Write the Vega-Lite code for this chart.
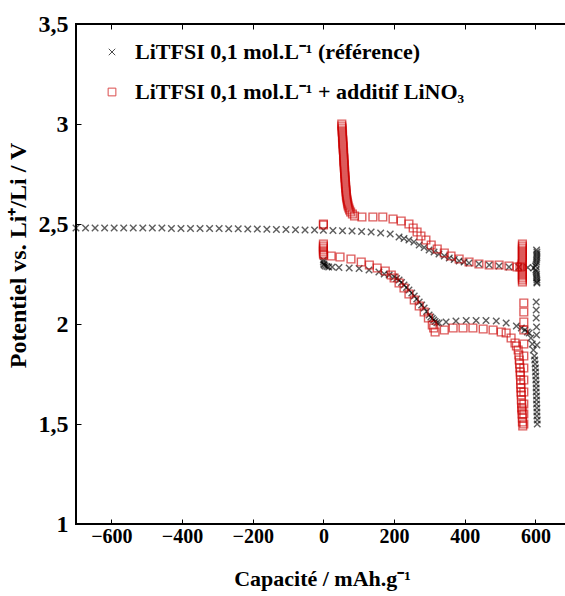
{
  "$schema": "https://vega.github.io/schema/vega-lite/v6.json",
  "width": 492,
  "height": 500,
  "autosize": "none",
  "padding": {"left": 76, "top": 24, "right": 0, "bottom": 72},
  "background": "white",
  "config": {
    "font": "Liberation Serif",
    "view": {"stroke": "black", "strokeWidth": 2},
    "axis": {
      "domain": false,
      "grid": false,
      "tickColor": "black",
      "tickWidth": 1,
      "tickSize": -5,
      "labelFont": "Liberation Serif",
      "labelFontSize": 20,
      "labelFontWeight": "bold",
      "labelColor": "black",
      "titleFont": "Liberation Serif",
      "titleFontSize": 22,
      "titleFontWeight": "bold",
      "titleColor": "black"
    }
  },
  "data": {
    "values": [
      {"s":"ref","x":-700,"y":2.48},{"s":"ref","x":-673,"y":2.48},{"s":"ref","x":-646,"y":2.48},{"s":"ref","x":-619,"y":2.48},{"s":"ref","x":-592,"y":2.48},{"s":"ref","x":-565,"y":2.48},{"s":"ref","x":-538,"y":2.48},{"s":"ref","x":-511,"y":2.48},{"s":"ref","x":-484,"y":2.48},{"s":"ref","x":-457,"y":2.48},{"s":"ref","x":-430,"y":2.478},{"s":"ref","x":-403,"y":2.478},{"s":"ref","x":-376,"y":2.478},{"s":"ref","x":-349,"y":2.477},{"s":"ref","x":-322,"y":2.477},{"s":"ref","x":-295,"y":2.477},{"s":"ref","x":-268,"y":2.476},{"s":"ref","x":-241,"y":2.476},{"s":"ref","x":-214,"y":2.475},{"s":"ref","x":-187,"y":2.475},{"s":"ref","x":-160,"y":2.474},{"s":"ref","x":-133,"y":2.473},{"s":"ref","x":-106,"y":2.472},{"s":"ref","x":-79,"y":2.471},{"s":"ref","x":-52,"y":2.47},{"s":"ref","x":-25,"y":2.47},{"s":"ref","x":0,"y":2.469},
      {"s":"ref","x":27,"y":2.467},{"s":"ref","x":54,"y":2.466},{"s":"ref","x":81,"y":2.465},{"s":"ref","x":108,"y":2.463},{"s":"ref","x":135,"y":2.46},{"s":"ref","x":162,"y":2.455},{"s":"ref","x":189,"y":2.45},{"s":"ref","x":214,"y":2.435},{"s":"ref","x":228,"y":2.428},{"s":"ref","x":242,"y":2.42},{"s":"ref","x":256,"y":2.41},{"s":"ref","x":271,"y":2.395},{"s":"ref","x":285,"y":2.383},{"s":"ref","x":299,"y":2.37},{"s":"ref","x":313,"y":2.36},{"s":"ref","x":327,"y":2.35},{"s":"ref","x":342,"y":2.34},{"s":"ref","x":356,"y":2.33},{"s":"ref","x":370,"y":2.322},{"s":"ref","x":384,"y":2.315},{"s":"ref","x":398,"y":2.31},{"s":"ref","x":412,"y":2.305},{"s":"ref","x":440,"y":2.3},{"s":"ref","x":469,"y":2.295},{"s":"ref","x":497,"y":2.29},{"s":"ref","x":525,"y":2.285},{"s":"ref","x":553,"y":2.285},{"s":"ref","x":578,"y":2.283},
      {"s":"ref","x":595,"y":2.28},{"s":"ref","x":600,"y":2.29},{"s":"ref","x":602,"y":2.3},{"s":"ref","x":603,"y":2.31},{"s":"ref","x":603,"y":2.32},{"s":"ref","x":604,"y":2.33},{"s":"ref","x":604,"y":2.34},{"s":"ref","x":604,"y":2.35},{"s":"ref","x":604,"y":2.36},{"s":"ref","x":603,"y":2.37},{"s":"ref","x":601,"y":2.27},{"s":"ref","x":602,"y":2.26},{"s":"ref","x":603,"y":2.25},{"s":"ref","x":603,"y":2.24},{"s":"ref","x":603,"y":2.23},{"s":"ref","x":604,"y":2.22},{"s":"ref","x":604,"y":2.21},{"s":"ref","x":604,"y":2.205},
      {"s":"ref","x":602,"y":2.11},{"s":"ref","x":602,"y":2.07},{"s":"ref","x":602,"y":2.03},{"s":"ref","x":603,"y":1.985},{"s":"ref","x":603,"y":1.945},{"s":"ref","x":604,"y":1.895},
      {"s":"ref","x":0,"y":2.32},{"s":"ref","x":0,"y":2.31},{"s":"ref","x":1,"y":2.3},{"s":"ref","x":2,"y":2.295},{"s":"ref","x":5,"y":2.29},{"s":"ref","x":10,"y":2.287},{"s":"ref","x":15,"y":2.285},{"s":"ref","x":25,"y":2.285},{"s":"ref","x":44,"y":2.283},{"s":"ref","x":73,"y":2.28},{"s":"ref","x":101,"y":2.278},{"s":"ref","x":129,"y":2.27},{"s":"ref","x":157,"y":2.26},{"s":"ref","x":172,"y":2.25},{"s":"ref","x":186,"y":2.245},{"s":"ref","x":200,"y":2.235},{"s":"ref","x":207,"y":2.228},{"s":"ref","x":214,"y":2.22},{"s":"ref","x":221,"y":2.208},{"s":"ref","x":228,"y":2.195},{"s":"ref","x":235,"y":2.183},{"s":"ref","x":242,"y":2.17},{"s":"ref","x":250,"y":2.155},{"s":"ref","x":257,"y":2.14},{"s":"ref","x":264,"y":2.125},{"s":"ref","x":271,"y":2.11},{"s":"ref","x":278,"y":2.095},{"s":"ref","x":285,"y":2.08},{"s":"ref","x":292,"y":2.062},{"s":"ref","x":299,"y":2.045},{"s":"ref","x":304,"y":2.035},{"s":"ref","x":308,"y":2.028},{"s":"ref","x":312,"y":2.02},{"s":"ref","x":316,"y":2.012},{"s":"ref","x":321,"y":2.006},{"s":"ref","x":327,"y":2.005},{"s":"ref","x":347,"y":2.01},{"s":"ref","x":375,"y":2.015},{"s":"ref","x":404,"y":2.018},{"s":"ref","x":432,"y":2.018},{"s":"ref","x":460,"y":2.017},{"s":"ref","x":489,"y":2.015},{"s":"ref","x":517,"y":2.005},{"s":"ref","x":546,"y":1.99},{"s":"ref","x":560,"y":1.98},{"s":"ref","x":570,"y":1.97},{"s":"ref","x":577,"y":1.96},{"s":"ref","x":582,"y":1.955},{"s":"ref","x":587,"y":1.93},{"s":"ref","x":591,"y":1.9},{"s":"ref","x":594,"y":1.87},{"s":"ref","x":597,"y":1.84},{"s":"ref","x":598,"y":1.82},{"s":"ref","x":599,"y":1.8},{"s":"ref","x":600,"y":1.78},{"s":"ref","x":600,"y":1.76},{"s":"ref","x":601,"y":1.74},{"s":"ref","x":601,"y":1.72},{"s":"ref","x":602,"y":1.7},{"s":"ref","x":602,"y":1.68},{"s":"ref","x":602,"y":1.66},{"s":"ref","x":603,"y":1.64},{"s":"ref","x":603,"y":1.62},{"s":"ref","x":603,"y":1.6},{"s":"ref","x":604,"y":1.58},{"s":"ref","x":604,"y":1.56},{"s":"ref","x":604,"y":1.54},{"s":"ref","x":605,"y":1.52},{"s":"ref","x":605,"y":1.5},
      {"s":"lino3","x":0,"y":2.5},{"s":"lino3","x":0,"y":2.495},
      {"s":"lino3","x":0,"y":2.4},{"s":"lino3","x":0,"y":2.39},{"s":"lino3","x":0,"y":2.38},{"s":"lino3","x":0,"y":2.37},{"s":"lino3","x":0,"y":2.36},{"s":"lino3","x":0,"y":2.35},{"s":"lino3","x":1,"y":2.345},
      {"s":"lino3","x":22,"y":2.34},{"s":"lino3","x":47,"y":2.335},{"s":"lino3","x":78,"y":2.325},{"s":"lino3","x":107,"y":2.31},{"s":"lino3","x":130,"y":2.295},{"s":"lino3","x":152,"y":2.28},{"s":"lino3","x":175,"y":2.265},{"s":"lino3","x":192,"y":2.245},{"s":"lino3","x":200,"y":2.23},{"s":"lino3","x":214,"y":2.205},{"s":"lino3","x":228,"y":2.18},{"s":"lino3","x":242,"y":2.15},{"s":"lino3","x":257,"y":2.12},{"s":"lino3","x":271,"y":2.09},{"s":"lino3","x":285,"y":2.06},{"s":"lino3","x":297,"y":2.03},{"s":"lino3","x":308,"y":1.995},{"s":"lino3","x":312,"y":1.98},{"s":"lino3","x":316,"y":1.96},{"s":"lino3","x":342,"y":1.97},{"s":"lino3","x":367,"y":1.98},{"s":"lino3","x":395,"y":1.98},{"s":"lino3","x":423,"y":1.98},{"s":"lino3","x":452,"y":1.975},{"s":"lino3","x":480,"y":1.97},{"s":"lino3","x":503,"y":1.96},{"s":"lino3","x":517,"y":1.955},{"s":"lino3","x":531,"y":1.93},{"s":"lino3","x":542,"y":1.905},{"s":"lino3","x":546,"y":1.89},{"s":"lino3","x":551,"y":1.87},{"s":"lino3","x":553,"y":1.845},{"s":"lino3","x":554,"y":1.82},{"s":"lino3","x":555,"y":1.8},{"s":"lino3","x":556,"y":1.78},{"s":"lino3","x":557,"y":1.76},{"s":"lino3","x":557,"y":1.745},{"s":"lino3","x":558,"y":1.72},{"s":"lino3","x":558,"y":1.7},{"s":"lino3","x":559,"y":1.68},{"s":"lino3","x":559,"y":1.66},{"s":"lino3","x":560,"y":1.645},{"s":"lino3","x":560,"y":1.62},{"s":"lino3","x":561,"y":1.6},{"s":"lino3","x":561,"y":1.58},{"s":"lino3","x":562,"y":1.57},{"s":"lino3","x":562,"y":1.55},{"s":"lino3","x":563,"y":1.53},{"s":"lino3","x":563,"y":1.51},{"s":"lino3","x":564,"y":1.49},
      {"s":"lino3","x":567,"y":2.105},{"s":"lino3","x":567,"y":2.06},{"s":"lino3","x":567,"y":2.01},{"s":"lino3","x":567,"y":1.97},{"s":"lino3","x":567,"y":1.9},{"s":"lino3","x":567,"y":1.84},{"s":"lino3","x":567,"y":1.78},{"s":"lino3","x":567,"y":1.72},{"s":"lino3","x":567,"y":1.66},{"s":"lino3","x":567,"y":1.6},{"s":"lino3","x":567,"y":1.55},{"s":"lino3","x":567,"y":1.5},
      {"s":"lino3","x":52,"y":3.0},{"s":"lino3","x":52,"y":2.99},{"s":"lino3","x":53,"y":2.98},{"s":"lino3","x":53,"y":2.97},{"s":"lino3","x":53,"y":2.96},{"s":"lino3","x":54,"y":2.95},{"s":"lino3","x":54,"y":2.94},{"s":"lino3","x":54,"y":2.93},{"s":"lino3","x":55,"y":2.92},{"s":"lino3","x":55,"y":2.91},{"s":"lino3","x":55,"y":2.9},{"s":"lino3","x":56,"y":2.89},{"s":"lino3","x":56,"y":2.88},{"s":"lino3","x":56,"y":2.87},{"s":"lino3","x":57,"y":2.86},{"s":"lino3","x":57,"y":2.85},{"s":"lino3","x":57,"y":2.84},{"s":"lino3","x":58,"y":2.83},{"s":"lino3","x":58,"y":2.82},{"s":"lino3","x":58,"y":2.81},{"s":"lino3","x":59,"y":2.8},{"s":"lino3","x":59,"y":2.79},{"s":"lino3","x":59,"y":2.78},{"s":"lino3","x":60,"y":2.77},{"s":"lino3","x":60,"y":2.76},{"s":"lino3","x":60,"y":2.75},{"s":"lino3","x":61,"y":2.74},{"s":"lino3","x":61,"y":2.73},{"s":"lino3","x":62,"y":2.72},{"s":"lino3","x":62,"y":2.71},{"s":"lino3","x":62,"y":2.7},{"s":"lino3","x":63,"y":2.69},{"s":"lino3","x":63,"y":2.68},{"s":"lino3","x":64,"y":2.67},{"s":"lino3","x":64,"y":2.66},{"s":"lino3","x":65,"y":2.65},{"s":"lino3","x":65,"y":2.64},{"s":"lino3","x":66,"y":2.63},{"s":"lino3","x":67,"y":2.62},{"s":"lino3","x":68,"y":2.61},{"s":"lino3","x":69,"y":2.6},{"s":"lino3","x":70,"y":2.59},{"s":"lino3","x":72,"y":2.58},{"s":"lino3","x":74,"y":2.57},{"s":"lino3","x":77,"y":2.56},{"s":"lino3","x":82,"y":2.55},
      {"s":"lino3","x":88,"y":2.54},{"s":"lino3","x":109,"y":2.535},{"s":"lino3","x":140,"y":2.535},{"s":"lino3","x":168,"y":2.535},{"s":"lino3","x":197,"y":2.525},{"s":"lino3","x":220,"y":2.515},{"s":"lino3","x":242,"y":2.5},{"s":"lino3","x":254,"y":2.48},{"s":"lino3","x":265,"y":2.46},{"s":"lino3","x":276,"y":2.44},{"s":"lino3","x":290,"y":2.42},{"s":"lino3","x":305,"y":2.395},{"s":"lino3","x":322,"y":2.375},{"s":"lino3","x":342,"y":2.355},{"s":"lino3","x":361,"y":2.34},{"s":"lino3","x":384,"y":2.325},{"s":"lino3","x":412,"y":2.31},{"s":"lino3","x":440,"y":2.3},{"s":"lino3","x":469,"y":2.295},{"s":"lino3","x":497,"y":2.295},{"s":"lino3","x":525,"y":2.29},{"s":"lino3","x":548,"y":2.285},
      {"s":"lino3","x":556,"y":2.285},{"s":"lino3","x":560,"y":2.29},{"s":"lino3","x":562,"y":2.3},{"s":"lino3","x":563,"y":2.31},{"s":"lino3","x":563,"y":2.32},{"s":"lino3","x":563,"y":2.33},{"s":"lino3","x":563,"y":2.34},{"s":"lino3","x":563,"y":2.35},{"s":"lino3","x":563,"y":2.36},{"s":"lino3","x":563,"y":2.37},{"s":"lino3","x":563,"y":2.38},{"s":"lino3","x":563,"y":2.39},{"s":"lino3","x":563,"y":2.4},{"s":"lino3","x":563,"y":2.28},{"s":"lino3","x":563,"y":2.27},{"s":"lino3","x":563,"y":2.26},{"s":"lino3","x":563,"y":2.25},{"s":"lino3","x":563,"y":2.24},{"s":"lino3","x":563,"y":2.23},{"s":"lino3","x":563,"y":2.22},{"s":"lino3","x":563,"y":2.21}
    ]
  },
  "resolve": {"axis": {"x": "independent"}},
  "layer": [
    {
      "mark": {"type": "point", "filled": false, "strokeWidth": 1.4, "strokeOpacity": 0.9},
      "encoding": {
        "x": {
          "field": "x", "type": "quantitative",
          "scale": {"domain": [-700, 692], "nice": false, "zero": false},
          "axis": {"orient": "bottom", "values": [-600, -400, -200, 0, 200, 400, 600], "labelPadding": 7, "title": "Capacité / mAh.g⁻¹", "titlePadding": 22}
        },
        "y": {
          "field": "y", "type": "quantitative",
          "scale": {"domain": [1, 3.5], "nice": false, "zero": false},
          "axis": {"values": [1, 1.5, 2, 2.5, 3, 3.5], "labelExpr": "replace(format(datum.value, '.1~f'), '.', ',')", "labelFontSize": 24, "labelPadding": 13, "title": "Potentiel vs. Li⁺/Li / V", "titleFontSize": 24, "titlePadding": 8, "titleY": 231}
        },
        "color": {
          "field": "s", "type": "nominal",
          "scale": {"domain": ["ref", "lino3"], "range": ["black", "#cc0000"]},
          "legend": {
            "orient": "none", "legendX": 25, "legendY": 17, "title": null,
            "labelExpr": "datum.value == 'ref' ? 'LiTFSI 0,1 mol.L⁻¹ (référence)' : 'LiTFSI 0,1 mol.L⁻¹ + additif LiNO₃'",
            "labelFont": "Liberation Serif", "labelFontSize": 22, "labelFontWeight": "bold",
            "labelLimit": 600, "rowPadding": 18, "labelOffset": 12, "symbolStrokeWidth": 1,
            "encode": {"labels": {"update": {"fill": {"signal": "datum.value == 'lino3' ? '#cc0000' : 'black'"}}}}
          }
        },
        "shape": {
          "field": "s", "type": "nominal",
          "scale": {"domain": ["ref", "lino3"], "range": ["M-1,-1L1,1M-1,1L1,-1", "square"]}
        },
        "size": {
          "field": "s", "type": "nominal",
          "scale": {"domain": ["ref", "lino3"], "range": [42, 60]}
        }
      }
    },
    {
      "mark": {"type": "point", "opacity": 0},
      "encoding": {
        "x": {
          "field": "x", "type": "quantitative",
          "axis": {"orient": "top", "values": [-600, -400, -200, 0, 200, 400, 600], "labels": false, "title": null}
        }
      }
    }
  ]
}
